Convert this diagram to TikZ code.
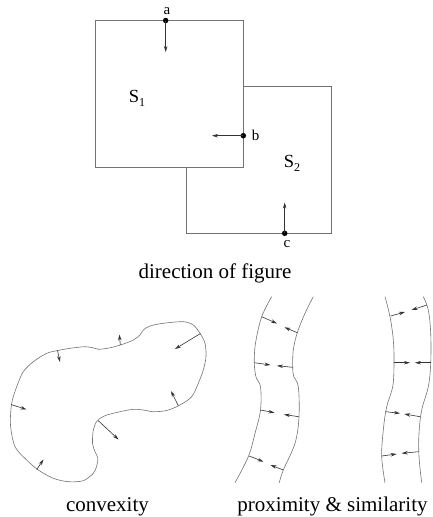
\documentclass[tikz,border=0pt]{standalone}
\usepackage{fontspec}
\setmainfont{Liberation Serif}
\usetikzlibrary{arrows.meta}
\tikzset{
  outline/.style={draw=black!55, line width=0.8pt},
  dirarrow/.style={draw=black!80, line width=0.6pt, -{Stealth[length=6pt,width=3.5pt]}},
  dot/.style={circle, fill=black, inner sep=0pt, minimum size=5.5pt},
  lbl/.style={font=\fontsize{15}{15}\selectfont, inner sep=0pt},
  slbl/.style={font=\fontsize{18.5}{18.5}\selectfont, inner sep=0pt},
  caption/.style={font=\fontsize{21}{25}\selectfont, inner sep=0pt, anchor=base},
}
\begin{document}
\begin{tikzpicture}[x=1pt,y=-1pt]
\useasboundingbox (0,0) rectangle (433,517);
% squares
\draw[outline, fill=white] (186,86) rectangle (331.7,233.3);
\draw[outline, fill=white] (95.7,20.7) rectangle (243.3,167.7);
\node[slbl] (s1) at (137,98) {S\raisebox{-4pt}{\fontsize{12}{12}\selectfont 1}};
\node[slbl] (s2) at (292,163) {S\raisebox{-4pt}{\fontsize{12}{12}\selectfont 2}};
% points
\node[dot] (a) at (165.7,20.5) {};
\node[dot] (b) at (243.3,135.7) {};
\node[dot] (c) at (284.7,233.3) {};
\node[lbl] (la) at (167,11) {a};
\node[lbl] (lb) at (255.5,135) {b};
\node[lbl] (lc) at (287,244) {c};
\coordinate (ta) at (165.7,52);
\coordinate (tb) at (212,135.7);
\coordinate (tc) at (284.7,202.5);
\draw[dirarrow] (a.center) -- (ta);
\draw[dirarrow] (b.center) -- (tb);
\draw[dirarrow] (c.center) -- (tc);
\node[caption] (cap1) at (215,278) {direction of figure};
% convexity
\draw[outline, line width=0.6pt] plot[smooth cycle, tension=0.5] coordinates {
 (15,446.7) (10.5,425) (11.7,403.3) (16.7,386.7) (23.3,371.7) (33.3,361.7) (46.7,353.3)
 (58,350.5) (70,348.3) (85,346.7) (93,347.8) (98.5,349.3) (110,347.8) (122,344.5)
 (133.3,340) (140,335) (143.3,330) (150,326) (163.3,323.3) (183.3,321.7) (193.3,325)
 (200,333.3) (205,343.3) (206,356.7) (203.3,370) (198.3,383.3) (191.7,396.7) (180,405)
 (166.7,410.5) (153.3,411.7) (143.3,410) (133.3,409.3) (120,411.7) (106.7,415) (100,418.3)
 (96.5,421.7) (93.3,430) (92.5,443.3) (95,451.7) (97.8,458) (96.7,466) (93.3,473.3)
 (83.3,480.7) (68.3,481.7) (53.3,478.3) (38.3,470) (26.7,460)};
\coordinate (v1) at (57.5,350.6); \coordinate (w1) at (60,362);
\coordinate (v2) at (120.3,344.8); \coordinate (w2) at (119.3,334.5);
\coordinate (v3) at (200.5,333.5); \coordinate (w3) at (175,349);
\coordinate (v4) at (11,404.5); \coordinate (w4) at (26.5,409.5);
\coordinate (v5) at (178.3,405.7); \coordinate (w5) at (171,391);
\coordinate (v6) at (98.3,420.7); \coordinate (w6) at (118.5,439.5);
\coordinate (v7) at (36.7,469.5); \coordinate (w7) at (43.5,459.5);
\foreach \i in {1,...,7} {\draw[dirarrow] (v\i) -- (w\i);}
\node[caption] (cap2) at (107.5,511) {convexity};
% proximity band
\draw[outline, line width=0.6pt] plot[smooth, tension=0.6] coordinates {
 (271.7,296.7) (261.7,316.7) (255.5,343.3) (254.3,363.3) (256.3,378) (260.5,386.7)
 (260.5,410) (255,433.3) (248.3,456.7) (235,482.7)};
\draw[outline, line width=0.6pt] plot[smooth, tension=0.6] coordinates {
 (313.3,296.7) (305,313.3) (297.3,332.7) (293.3,350) (292.7,366.7) (293.8,376.7)
 (298.3,386.7) (299,416.7) (295,443.3) (283.3,470) (279.3,482.7)};
\coordinate (p1) at (261.7,316.7); \coordinate (q1) at (277,323.5);
\coordinate (p2) at (297.3,332.7); \coordinate (q2) at (284.5,327.3);
\coordinate (p3) at (254.3,362.7); \coordinate (q3) at (270.5,365);
\coordinate (p4) at (292.7,367.3); \coordinate (q4) at (277,365.7);
\coordinate (p5) at (260.5,410); \coordinate (q5) at (274.5,412.7);
\coordinate (p6) at (298.7,416.7); \coordinate (q6) at (284,414.5);
\coordinate (p7) at (249.3,456); \coordinate (q7) at (263.5,461.7);
\coordinate (p8) at (283.3,470); \coordinate (q8) at (270.5,465);
% similarity band
\draw[outline, line width=0.6pt] plot[smooth, tension=0.6] coordinates {
 (385,296.7) (390,316.7) (393.3,340) (394,363.3) (392.7,386.7) (386.7,406.7)
 (383.3,430) (381.7,456.7) (385,482.7)};
\draw[outline, line width=0.6pt] plot[smooth, tension=0.6] coordinates {
 (423.3,296.7) (428.3,310) (430.7,333.3) (430.7,363.3) (428.3,386.7) (421.7,410)
 (419,433.3) (419,456.7) (421.7,482.7)};
\coordinate (p9) at (390.7,316); \coordinate (q9) at (405,312);
\coordinate (p10) at (427,305); \coordinate (q10) at (411.5,310);
\coordinate (p11) at (394,362.7); \coordinate (q11) at (410,362.7);
\coordinate (p12) at (430.7,362.7); \coordinate (q12) at (415,362.7);
\coordinate (p13) at (385.7,411.7); \coordinate (q13) at (400,413.3);
\coordinate (p14) at (420.2,416.7); \coordinate (q14) at (404.3,414);
\coordinate (p15) at (381.7,456); \coordinate (q15) at (396.7,454);
\coordinate (p16) at (418.5,451.7); \coordinate (q16) at (401.7,453.3);
\foreach \i in {1,...,16} {\draw[dirarrow] (p\i) -- (q\i);}
\node[caption] (cap3) at (332.5,511) {proximity \& similarity};
\end{tikzpicture}
\end{document}
